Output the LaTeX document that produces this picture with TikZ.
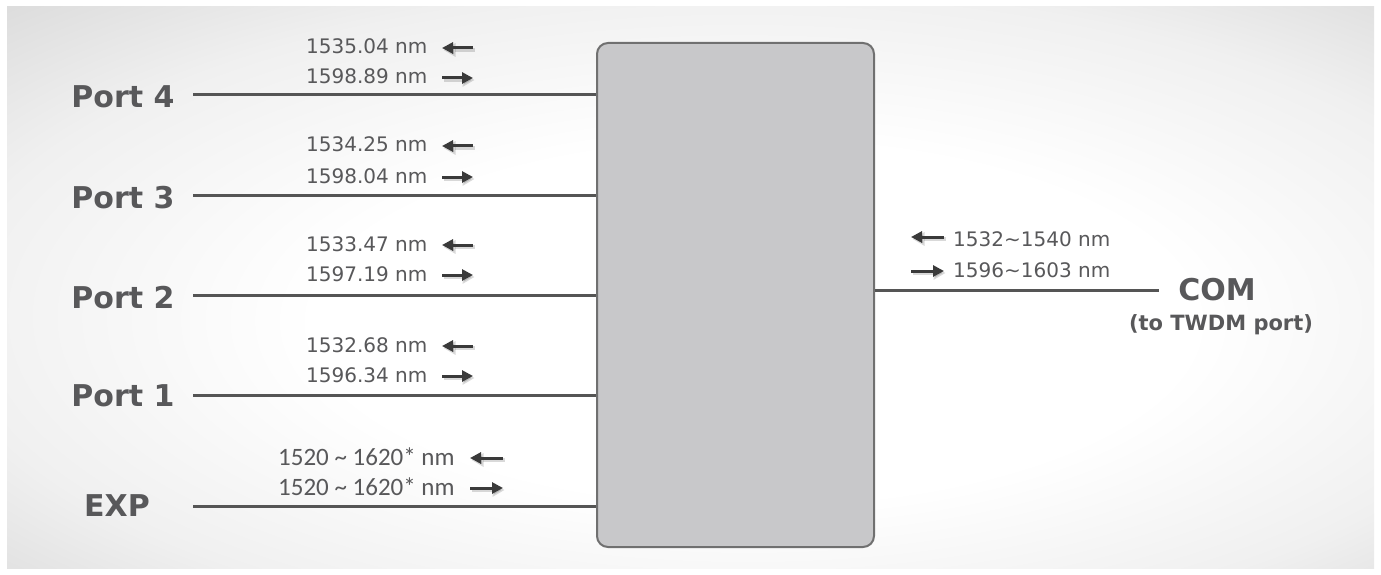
\documentclass[tikz,border=0pt]{standalone}
\usepackage{fontspec}
\setmainfont{DejaVu Sans}
\newfontfamily\calfont{Carlito}
\usetikzlibrary{arrows.meta}
\definecolor{txt}{HTML}{58585A}
\definecolor{wirec}{HTML}{555555}
\definecolor{arr}{HTML}{3A3A3A}
\definecolor{boxfill}{HTML}{C8C8CA}
\definecolor{boxline}{HTML}{707070}
\definecolor{bgA}{HTML}{FFFFFF}
\definecolor{bgB}{HTML}{F0F0F0}
\definecolor{bgC}{HTML}{DCDCDC}
\definecolor{bgD}{HTML}{CACACA}
\definecolor{bgE}{HTML}{B2B2B2}
\pgfdeclareradialshading{bgshade}{\pgfpoint{3bp}{-4bp}}{color(0bp)=(bgA); color(16bp)=(bgA); color(29bp)=(bgB); color(38bp)=(bgC); color(47bp)=(bgD); color(71bp)=(bgE)}
\tikzset{
  wl/.style={font=\fontsize{20}{24}\selectfont, text=txt, anchor=base west, inner sep=0pt},
  xl/.style={font=\calfont\fontsize{25}{30}\selectfont, text=txt, anchor=base west, inner sep=0pt},
  portlbl/.style={font=\bfseries\fontsize{30}{36}\selectfont, text=txt, anchor=base, inner sep=0pt},
  sublbl/.style={font=\bfseries\fontsize{21}{25}\selectfont, text=txt, anchor=base, inner sep=0pt},
  wire/.style={draw=wirec, line width=3pt},
  warrow/.style={draw=arr, line width=3pt, -{Triangle[length=11pt,width=11pt]}},
  wshadow/.style={draw=black, opacity=0.15, line width=4.5pt, -{Triangle[length=12pt,width=13pt]}},
  boxstyle/.style={draw=boxline, fill=boxfill, line width=2pt, rounded corners=11pt, minimum width=277pt, minimum height=504pt, anchor=north west, inner sep=0pt}
}
\begin{document}
\begin{tikzpicture}[x=1pt,y=-1pt]
\useasboundingbox (0,0) rectangle (1381,575);
\fill[white] (0,0) rectangle (1381,575);
\shade[shading=bgshade] (7,7) rectangle (1374,568);

\node[boxstyle] (box) at (596,42) {};

% port labels
\node[portlbl] (p4) at (123,108) {Port 4};
\node[portlbl] (p3) at (123,208) {Port 3};
\node[portlbl] (p2) at (123,308) {Port 2};
\node[portlbl] (p1) at (123,406) {Port 1};
\node[portlbl] (pe) at (117,516) {EXP};

% wires
\coordinate (w4) at (193,95);
\coordinate (w3) at (193,195);
\coordinate (w2) at (193,295);
\coordinate (w1) at (193,395);
\coordinate (we) at (193,506);
\draw[wire] (w4) -- (w4 -| box.west);
\draw[wire] (w3) -- (w3 -| box.west);
\draw[wire] (w2) -- (w2 -| box.west);
\draw[wire] (w1) -- (w1 -| box.west);
\draw[wire] (we) -- (we -| box.west);

% wavelength labels
\node[wl] (t4a) at (306,54) {1535.04 nm};
\node[wl] (t4b) at (306,84) {1598.89 nm};
\node[wl] (t3a) at (306,152) {1534.25 nm};
\node[wl] (t3b) at (306,183) {1598.04 nm};
\node[wl] (t2a) at (306,251) {1533.47 nm};
\node[wl] (t2b) at (306,281) {1597.19 nm};
\node[wl] (t1a) at (306,352) {1532.68 nm};
\node[wl] (t1b) at (306,382) {1596.34 nm};
\node[xl] (tea) at (278,465) {1520 \textasciitilde{} 1620* nm};
\node[xl] (teb) at (278,495) {1520 \textasciitilde{} 1620* nm};

% arrows (left = towards port, right = towards box)
\foreach \nm/\xa/\xb/\yy in {4a/473/442/48, 4b/442/473/78, 3a/473/442/146, 3b/442/473/177,
  2a/473/442/245, 2b/442/473/275, 1a/473/442/346, 1b/442/473/376,
  ea/503/470/458, eb/470/503/488, ca/944/911/237, cb/911/944/271}{
  \coordinate (s\nm) at (\xa,\yy);
  \coordinate (e\nm) at (\xb,\yy);
  \draw[wshadow] ([shift={(1.5,2)}]s\nm) -- ([shift={(1.5,2)}]e\nm);
  \draw[warrow] (s\nm) -- (e\nm);
}

% COM side
\coordinate (cw) at (1159,290);
\draw[wire] (box.east |- cw) -- (cw);
\node[wl] (tca) at (953,246) {1532\textasciitilde1540 nm};
\node[wl] (tcb) at (953,277) {1596\textasciitilde1603 nm};
\node[portlbl] (com) at (1217,300) {COM};
\node[sublbl] (comsub) at (1221,330) {(to TWDM port)};
\end{tikzpicture}
\end{document}
